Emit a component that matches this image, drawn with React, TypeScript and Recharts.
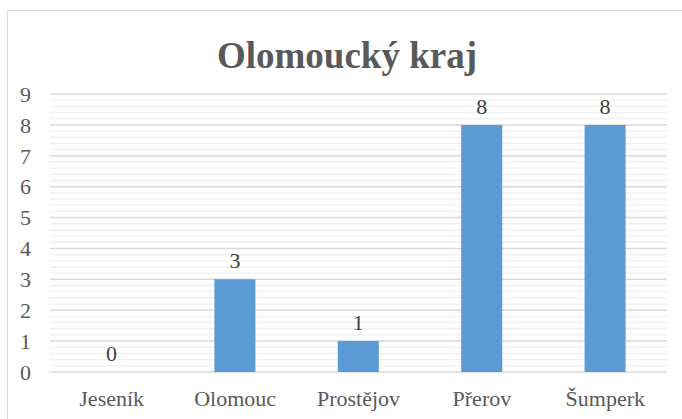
import React from 'react';
import { BarChart, Bar, XAxis, YAxis, CartesianGrid, LabelList, ReferenceLine } from 'recharts';

const districts = ['Jeseník', 'Olomouc', 'Prostějov', 'Přerov', 'Šumperk'];
const counts = [0, 3, 1, 8, 8];
const majorTicks = [0, 1, 2, 3, 4, 5, 6, 7, 8, 9];
// minor gridlines every 0.2 between the integer lines
const minorTicks = Array.from({ length: 45 }, (_, i) => i / 5).filter((t) => !Number.isInteger(t));

const data = districts.map((name, i) => ({ name, value: counts[i] }));

const FONT = "'Liberation Serif', 'DejaVu Serif', 'Noto Serif', Georgia, serif";

const ValueLabel = (props: any) => {
  const { x, y, width, value } = props;
  return (
    <text x={x + width / 2} y={y - 11} textAnchor="middle" fill="#404040" fontSize={22} fontFamily={FONT}>
      {value}
    </text>
  );
};

const App: React.FC = () => {
  return (
    <div style={{ position: 'absolute', left: 0, top: 0, width: 682, height: 419, overflow: 'hidden', background: '#fff', fontFamily: FONT }}>
      {/* chart frame, cut off on the right and bottom */}
      <div style={{ position: 'absolute', left: 7, top: 10, width: 700, height: 430, border: '1.5px solid #d9d9d9', boxSizing: 'border-box' }} />
      <svg width={682} height={419} style={{ position: 'absolute', left: 0, top: 0 }}>
        <text x={347} y={68} textAnchor="middle" fontWeight="bold" fontSize={37} fill="#595959" fontFamily={FONT}>
          Olomoucký kraj
        </text>
      </svg>
      <div style={{ position: 'absolute', left: 0, top: 0 }}>
        <BarChart width={682} height={419} data={data} margin={{ top: 94, right: 15, left: 0, bottom: 0 }}>
          <CartesianGrid vertical={false} stroke="#d9d9d9" strokeWidth={1.5} />
          <XAxis
            dataKey="name"
            axisLine={false}
            tickLine={false}
            height={47}
            tickMargin={12}
            interval={0}
            tick={{ fill: '#595959', fontSize: 22, fontFamily: FONT }}
          />
          <YAxis
            domain={[0, 9]}
            ticks={majorTicks}
            interval={0}
            width={50}
            axisLine={false}
            tickLine={false}
            tickMargin={13}
            tick={{ fill: '#595959', fontSize: 22, fontFamily: FONT }}
          />
          {minorTicks.map((t) => (
            <ReferenceLine key={t} y={t} stroke="#efefef" strokeWidth={1.3} zIndex={-50} />
          ))}
          <Bar dataKey="value" fill="#5b9bd5" barSize={41} minPointSize={0.01} isAnimationActive={false}>
            <LabelList dataKey="value" content={ValueLabel} />
          </Bar>
        </BarChart>
      </div>
    </div>
  );
};

export default App;
